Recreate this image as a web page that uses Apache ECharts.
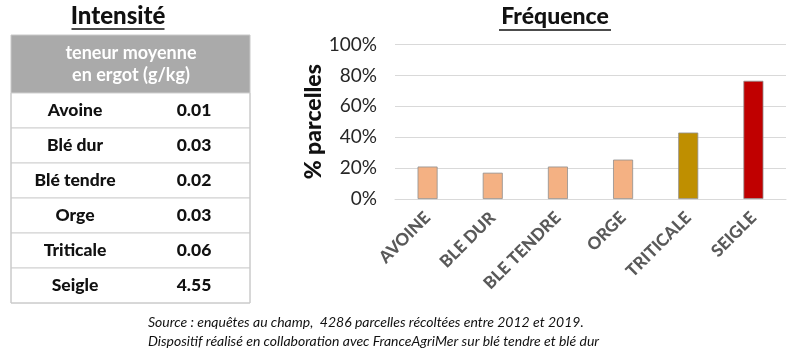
<!DOCTYPE html>
<html>
<head>
<meta charset="utf-8">
<script src="https://cdn.jsdelivr.net/npm/echarts@6/dist/echarts.min.js"></script>
<style>
html,body{margin:0;padding:0;background:#fff;}
#main{width:800px;height:352px;}
</style>
</head>
<body>
<div id="main"></div>
<script>
// ---- data ----
const categories = ['AVOINE', 'BLE DUR', 'BLE TENDRE', 'ORGE', 'TRITICALE', 'SEIGLE'];
const frequence = [0.21, 0.17, 0.21, 0.255, 0.43, 0.765];
const tableNames = ['Avoine', 'Blé dur', 'Blé tendre', 'Orge', 'Triticale', 'Seigle'];
const tableValues = ['0.01', '0.03', '0.02', '0.03', '0.06', '4.55'];
const yTicks = [0, 0.2, 0.4, 0.6, 0.8, 1.0];
const tableHeader = ['teneur moyenne', 'en ergot (g/kg)'];
const sourceLines = [
  'Source : enquêtes au champ,  4286 parcelles récoltées entre 2012 et 2019.',
  'Dispositif réalisé en collaboration avec FranceAgriMer sur blé tendre et blé dur'
];

// ---- styles ----
const barColors = ['#F4B183', '#F4B183', '#F4B183', '#F4B183', '#BF8F00', '#C00000'];
const FONT = 'Lato, "Liberation Sans", sans-serif';

const chart = echarts.init(document.getElementById('main'), null, {renderer: 'canvas'});

// table graphics
const tLeft = 11, tRight = 250, tTop = 35, headerH = 58, rowH = 35;
const g = [];
g.push({type: 'rect', shape: {x: tLeft, y: tTop, width: tRight - tLeft, height: headerH},
  style: {fill: '#AAAAAA'}});
tableHeader.forEach((t, i) => {
  g.push({type: 'text', x: 131, y: tTop + 18 + i * 22,
    style: {text: t, fill: '#ffffff', font: 'bold 18px ' + FONT, align: 'center', verticalAlign: 'middle'}});
});
tableNames.forEach((n, i) => {
  const y0 = tTop + headerH + i * rowH;
  g.push({type: 'rect', shape: {x: tLeft, y: y0, width: tRight - tLeft, height: rowH},
    style: {fill: '#ffffff', stroke: '#D0D0D0', lineWidth: 1}});
  g.push({type: 'text', x: 75, y: y0 + rowH / 2,
    style: {text: n, fill: '#111111', font: '900 17.5px ' + FONT, align: 'center', verticalAlign: 'middle'}});
  g.push({type: 'text', x: 194, y: y0 + rowH / 2,
    style: {text: tableValues[i], fill: '#111111', font: '900 17.5px ' + FONT, align: 'center', verticalAlign: 'middle'}});
});
g.push({type: 'rect', shape: {x: tLeft, y: tTop, width: tRight - tLeft, height: headerH + rowH * tableNames.length},
  style: {fill: 'none', stroke: '#C8C8C8', lineWidth: 1}});

// titles with underline
function title(text, cx, cy, w, size) {
  g.push({type: 'text', x: cx, y: cy,
    style: {text: text, fill: '#111111', font: '900 ' + size + 'px ' + FONT, align: 'center', verticalAlign: 'middle'}});
  g.push({type: 'line', shape: {x1: cx - w / 2, y1: cy + 13, x2: cx + w / 2, y2: cy + 13},
    style: {stroke: '#111111', lineWidth: 1.5}});
}
title('Intensité', 118, 16, 93, 24);
title('Fréquence', 555, 17, 112, 23);

sourceLines.forEach((t, i) => {
  g.push({type: 'text', x: 148, y: 322 + i * 19,
    style: {text: t, fill: '#111111', font: 'italic 14px ' + FONT, align: 'left', verticalAlign: 'middle'}});
});

const option = {
  animation: false,
  backgroundColor: '#ffffff',
  grid: {left: 395, right: 14, top: 44.5, bottom: 153, containLabel: false},
  xAxis: {
    type: 'category',
    data: categories,
    axisLine: {show: true, lineStyle: {color: '#D9D9D9', width: 1}},
    axisTick: {show: false},
    axisLabel: {rotate: 45, interval: 0, margin: 16, fontSize: 17, fontWeight: 900,
      fontFamily: FONT, color: '#595959'}
  },
  yAxis: {
    type: 'value',
    min: 0, max: 1, interval: 0.2,
    name: '% parcelles',
    nameLocation: 'middle',
    nameGap: 68,
    nameRotate: 90,
    nameTextStyle: {fontSize: 23, fontWeight: 900, fontFamily: FONT, color: '#111111'},
    axisLine: {show: false},
    axisTick: {show: false},
    splitLine: {lineStyle: {color: '#D9D9D9', width: 1}},
    axisLabel: {fontSize: 19, fontFamily: FONT, color: '#262626', margin: 18,
      formatter: v => Math.round(v * 100) + '%'}
  },
  series: [{
    type: 'bar',
    barWidth: 20,
    data: frequence.map((v, i) => ({value: v, itemStyle: {color: barColors[i]}})),
    itemStyle: {borderColor: '#8F8F8F', borderWidth: 0.8}
  }],
  graphic: g
};
chart.setOption(option);
</script>
</body>
</html>
